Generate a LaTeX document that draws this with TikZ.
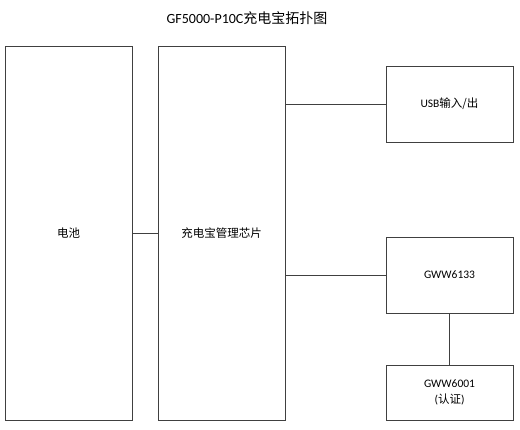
\documentclass[tikz,border=0pt]{standalone}
\usepackage{fontspec}
\setmainfont{Carlito}
\newfontfamily\cjk{Noto Sans CJK SC}
\begin{document}
\begin{tikzpicture}[x=1pt,y=-1pt,
  blk/.style={draw=black!75,line width=0.8pt,fill=white,inner sep=0pt,font=\fontsize{11.5}{16}\selectfont},
  conn/.style={draw=black!75,line width=0.8pt}]
\useasboundingbox (0,0) rectangle (520,430);
\node[font=\fontsize{14}{16}\selectfont] (title) at (247,18) {GF5000-P10C{\cjk 充电宝拓扑图}};
\node[blk,minimum width=127pt,minimum height=374pt] (bat) at (68.5,233) {\cjk 电池};
\node[blk,minimum width=127pt,minimum height=374pt] (chip) at (221.5,233) {\cjk 充电宝管理芯片};
\node[blk,minimum width=127pt,minimum height=76pt] (usb) at (449.5,104) {USB{\cjk 输入/出}};
\node[blk,minimum width=127pt,minimum height=76pt] (g1) at (449.5,275) {GWW6133};
\node[blk,minimum width=127pt,minimum height=55pt,align=center] (g2) at (449.5,392.5) {GWW6001\\({\cjk 认证})};
\draw[conn] (bat.east) -- (chip.west);
\draw[conn] (chip.east |- usb.west) -- (usb.west);
\draw[conn] (chip.east |- g1.west) -- (g1.west);
\draw[conn] (g1.south) -- (g2.north);
\end{tikzpicture}
\end{document}
